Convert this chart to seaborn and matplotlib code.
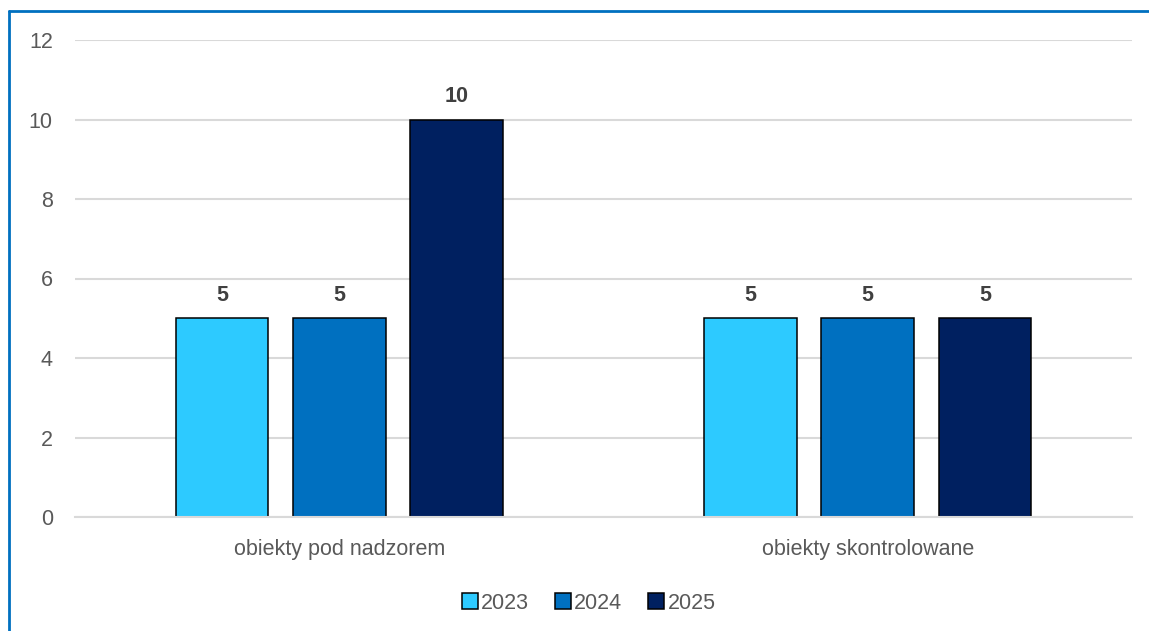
import numpy as np
import pandas as pd
import matplotlib.pyplot as plt
import seaborn as sns
from matplotlib.lines import Line2D

categories = ['obiekty pod nadzorem', 'obiekty skontrolowane']
years = ['2023', '2024', '2025']
values_2023 = [5, 5]
values_2024 = [5, 5]
values_2025 = [10, 5]

colors = ['#2DCAFF', '#0070C0', '#002060']
text_grey = '#595959'
grid_grey = '#D9D9D9'

df = pd.DataFrame({
    'kategoria': categories * 3,
    'rok': [y for y in years for _ in categories],
    'wartosc': values_2023 + values_2024 + values_2025,
})

sns.set_theme(style='white')
plt.rcParams['font.family'] = ['Liberation Sans', 'DejaVu Sans']
fs = 15.5

fig = plt.figure(figsize=(11.49, 6.31), dpi=100)
ax = fig.add_axes([75 / 1149, 114 / 631, 1057 / 1149, 477 / 631])

sns.barplot(data=df, x='kategoria', y='wartosc', hue='rok', order=categories,
            hue_order=years, palette=colors, saturation=1, width=0.666, gap=0.21,
            edgecolor='black', linewidth=1.1, ax=ax)

for cont in ax.containers:
    ax.bar_label(cont, fmt='%d', padding=9, fontsize=fs, fontweight='bold', color='#404040')

ax.set_ylim(0, 12)
ax.set_xlim(-0.5, 1.5)
ax.set_yticks(np.arange(0, 13, 2))
ax.yaxis.grid(True, color=grid_grey, linewidth=1.5)
ax.set_axisbelow(True)
ax.set_xlabel('')
ax.set_ylabel('')
for side in ['top', 'right', 'left']:
    ax.spines[side].set_visible(False)
ax.spines['bottom'].set_color(grid_grey)
ax.spines['bottom'].set_linewidth(1.5)

ax.tick_params(axis='y', length=0, pad=16, labelsize=fs, labelcolor=text_grey)
ax.tick_params(axis='x', which='major', length=0, pad=16, labelsize=fs, labelcolor=text_grey)
ax.set_xticks([-0.5, 0.5, 1.5], minor=True)
ax.tick_params(axis='x', which='minor', length=6, width=1.5, color=grid_grey)

leg = ax.legend(loc='upper center', bbox_to_anchor=(0.486, -0.118), ncol=3, frameon=False,
                fontsize=fs, handlelength=0.75, handleheight=0.75, handletextpad=0.15,
                columnspacing=1.2, labelcolor=text_grey)

# blue frame (top and left edges visible)
fig.add_artist(Line2D([9 / 1149, 9 / 1149], [0, 1 - 11 / 631], color='#0070C0', linewidth=2,
                      transform=fig.transFigure))
fig.add_artist(Line2D([9 / 1149, 1], [1 - 11 / 631, 1 - 11 / 631], color='#0070C0', linewidth=2,
                      transform=fig.transFigure))

fig.savefig('out.png', dpi=100)
